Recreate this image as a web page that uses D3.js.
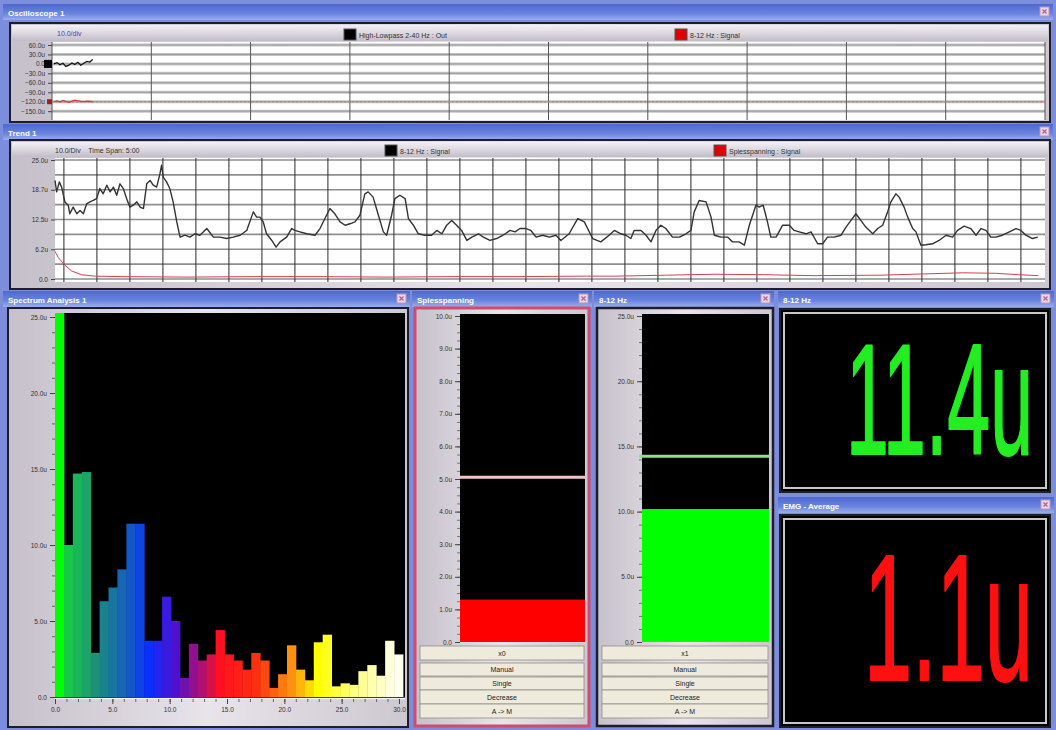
<!DOCTYPE html>
<html>
<head>
<meta charset="utf-8">
<script src="https://cdn.jsdelivr.net/npm/d3@7"></script>
<style>
  body { margin: 0; background: #7c8edb; overflow: hidden; }
  svg { display: block; font-family: "Liberation Sans", Arial, sans-serif; }
  .tick text { font-size: 6.5px; fill: #333; }
</style>
</head>
<body>
<svg id="dash" width="1056" height="730"></svg>
<script>

// ---- data ----

// oscilloscope (time in divisions, values in uV)
const oscTicks = [60, 30, 0, -30, -60, -90, -120, -150];
const oscT = [0.02, 0.05, 0.08, 0.11, 0.14, 0.17, 0.2, 0.23, 0.26, 0.29, 0.32, 0.35, 0.38, 0.41];
const oscBlack = [0, 4, -3, 2, -8, -4, 3, -2, 5, -4, 2, 8, 6, 14];
const oscRed = [-120, -117, -121, -116, -119, -122, -118, -115, -117, -119, -120, -118, -119, -120];

// trend, 8-12 Hz signal (time in s over a 5:00 span, values in uV)
const trendT = [0.0, 0.5, 1.3, 2.0, 3.0, 4.0, 4.5, 5.5, 6.6, 7.6, 8.6, 9.6, 10.6, 11.6, 12.6, 13.6, 14.6, 15.7, 16.7, 17.7,
  18.7, 19.7, 20.7, 21.7, 22.7, 23.7, 24.8, 25.8, 26.8, 27.8, 28.8, 29.8, 30.8, 31.8, 32.3, 32.8, 33.8, 34.8, 35.8, 36.9,
  37.9, 39.4, 40.9, 42.4, 43.9, 46.0, 48.0, 50.0, 52.0, 54.0, 56.1, 58.1, 60.1, 61.1, 62.1, 63.1, 64.1, 65.7, 67.0, 68.2,
  70.2, 71.7, 72.7, 74.2, 76.3, 78.8, 80.3, 81.8, 83.3, 84.8, 86.4, 87.9, 89.4, 90.9, 92.4, 93.9, 94.9, 96.4, 98.0, 99.5,
  100.5, 102.0, 103.0, 104.5, 106.1, 107.1, 108.6, 110.1, 112.1, 114.1, 115.7, 117.2, 118.7, 120.2, 121.7, 123.2, 124.8, 126.3, 128.3, 129.8,
  131.8, 133.8, 135.8, 137.9, 139.4, 140.9, 142.7, 144.2, 145.8, 147.8, 149.8, 151.8, 153.3, 155.8, 158.4, 160.4, 162.9, 165.4, 167.9, 169.5,
  171.5, 173.0, 174.5, 175.5, 177.6, 179.1, 180.6, 182.1, 183.6, 185.1, 187.1, 189.2, 191.2, 192.7, 193.7, 195.2, 197.3, 198.8, 199.8, 201.8,
  203.8, 205.3, 207.3, 208.9, 210.4, 212.4, 213.4, 214.6, 215.9, 216.9, 218.5, 220.5, 222.5, 224.0, 225.5, 227.6, 229.1, 231.1, 232.6, 234.1,
  236.1, 238.2, 239.7, 241.2, 242.7, 244.2, 245.7, 247.8, 249.3, 250.8, 252.3, 253.3, 254.8, 255.8, 257.3, 258.4, 259.9, 260.9, 262.4, 263.9,
  265.9, 267.9, 270.0, 272.0, 273.5, 275.5, 277.5, 279.1, 280.6, 282.1, 283.6, 285.1, 287.1, 289.2, 291.2, 292.7, 294.2, 296.2, 297.8];
const trendSignal = [20.7, 18.3, 20.4, 19.3, 16.2, 15.5, 13.7, 15.1, 13.7, 14.4, 13.7, 15.8, 16.2, 16.5, 16.9, 19.0, 17.9, 19.7, 18.3, 19.3,
  17.6, 20.0, 19.0, 16.9, 15.1, 15.5, 16.2, 15.1, 14.8, 20.0, 20.7, 19.7, 19.3, 22.1, 23.9, 21.4, 20.4, 19.0, 16.2, 12.0,
  8.8, 9.2, 8.8, 9.5, 9.2, 10.6, 8.8, 8.8, 8.5, 8.8, 9.2, 10.2, 14.1, 13.0, 13.0, 12.0, 9.5, 8.1, 6.7, 7.8,
  8.8, 10.6, 10.2, 9.9, 9.5, 9.2, 10.6, 12.7, 14.8, 13.7, 12.0, 11.3, 11.6, 12.0, 13.4, 17.9, 18.3, 17.2, 13.4, 9.9,
  9.2, 13.4, 16.9, 17.6, 16.9, 12.7, 11.3, 9.5, 9.2, 9.2, 10.2, 9.5, 11.3, 12.3, 11.3, 10.2, 8.1, 8.8, 9.5, 8.8,
  8.1, 8.5, 9.2, 10.2, 9.9, 10.6, 10.6, 10.2, 8.8, 9.2, 8.8, 9.2, 8.1, 9.5, 12.7, 12.0, 8.5, 7.8, 9.2, 10.2,
  9.5, 9.2, 8.5, 10.2, 10.2, 9.2, 7.8, 10.2, 11.3, 10.6, 8.8, 8.8, 9.5, 10.2, 14.1, 16.5, 16.2, 13.0, 9.2, 8.8,
  8.8, 7.8, 7.8, 7.1, 11.3, 15.5, 15.1, 15.5, 12.0, 8.8, 8.8, 11.3, 11.3, 10.2, 9.9, 9.5, 9.9, 7.4, 7.4, 8.8,
  8.8, 9.2, 10.9, 12.3, 13.7, 12.3, 10.9, 9.5, 10.6, 11.3, 14.1, 16.2, 17.9, 17.2, 15.1, 13.0, 10.6, 9.9, 7.1, 7.2,
  7.4, 8.1, 9.2, 8.8, 10.2, 11.1, 10.6, 9.2, 10.6, 10.2, 8.8, 8.8, 9.2, 9.9, 10.6, 10.2, 9.2, 8.5, 8.8];

// trend, Spiesspanning signal
const spiesT = [0, 1, 3, 5, 8, 12, 20, 40, 60, 80, 100, 120, 140, 160, 170, 185, 200, 215, 230, 250, 260, 275, 285, 292, 298];
const spiesSignal = [5.8, 4.5, 2.9, 1.7, 0.9, 0.6, 0.5, 0.4, 0.5, 0.5, 0.4, 0.5, 0.5, 0.6, 0.6, 0.8, 1.0, 0.9, 0.7, 0.8, 1.0, 1.3, 1.2, 0.9, 0.7];
const trendTicks = [0, 6.25, 12.5, 18.75, 25];
const trendTickLabels = ["0.0", "6.2u", "12.5u", "18.7u", "25.0u"];

// spectrum, 39 bins from 0 to 30 Hz (uV)
const specValues = [26, 10.0, 14.7, 14.8, 2.9, 6.3, 7.2, 8.4, 11.4, 11.4, 3.7, 3.7, 6.6, 5.0, 1.25, 3.5, 2.4, 2.8, 4.4, 2.8,
  2.4, 1.8, 2.9, 2.4, 0.6, 1.5, 3.4, 1.8, 1.1, 3.6, 4.1, 0.7, 0.9, 0.8, 1.7, 2.1, 1.4, 3.7, 2.8];
const specXTicks = [0, 5, 10, 15, 20, 25, 30];
const specYTicks = [0, 5, 10, 15, 20, 25];

// bar meters
const spiesValue = 1.3, spiesMarker = 5.05;
const alphaValue = 10.2, alphaMarker = 14.25;
const spiesTicks = [0, 1, 2, 3, 4, 5, 6, 7, 8, 9, 10];
const alphaTicks = [0, 5, 10, 15, 20, 25];
const buttonsSpies = ["x0", "Manual", "Single", "Decrease", "A -> M"];
const buttonsAlpha = ["x1", "Manual", "Single", "Decrease", "A -> M"];

// numeric displays
const alphaDisplay = "11.4u";
const emgDisplay = "1.1u";

// ---- drawing ----

const svg = d3.select("#dash");
const defs = svg.append("defs");

function grad(id, stops, vertical) {
  var g = defs.append("linearGradient").attr("id", id)
    .attr("x1", 0).attr("y1", 0).attr("x2", vertical ? 0 : 1).attr("y2", vertical ? 1 : 0);
  stops.forEach(function(s) { g.append("stop").attr("offset", s[0]).attr("stop-color", s[1]); });
}
grad("gTitle", [[0, "#4d69d0"], [0.6, "#6a84de"], [1, "#9aaeee"]], true);
grad("gHeader", [[0, "#f2f0f4"], [0.5, "#dcd8e0"], [1, "#c2bcc8"]], true);
grad("gAxis", [[0, "#c6c0ca"], [0.5, "#e8e4ea"], [1, "#cdc7d0"]], false);

svg.append("rect").attr("width", 1056).attr("height", 730).attr("fill", "#7c8edb");

function titleBar(x, y, w, label) {
  svg.append("rect").attr("x", x).attr("y", y).attr("width", w).attr("height", 16).attr("fill", "url(#gTitle)");
  svg.append("text").attr("x", x + 5).attr("y", y + 11.5).attr("fill", "#fff")
    .attr("font-size", 8).attr("font-weight", "bold").text(label);
  var cb = svg.append("g").attr("transform", "translate(" + (x + w - 13) + "," + (y + 3) + ")");
  cb.append("rect").attr("width", 9).attr("height", 9).attr("fill", "#ecd6e6").attr("stroke", "#b898b8");
  cb.append("path").attr("d", "M2.5,2.5L6.5,6.5M6.5,2.5L2.5,6.5").attr("stroke", "#b06090").attr("stroke-width", 1.2);
}

function frame(x, y, w, h, fill, stroke, sw) {
  svg.append("rect").attr("x", x).attr("y", y).attr("width", w).attr("height", h)
    .attr("fill", fill).attr("stroke", stroke).attr("stroke-width", sw);
}

function legendItem(x, y, color, label) {
  svg.append("rect").attr("x", x).attr("y", y).attr("width", 12).attr("height", 11).attr("fill", color).attr("stroke", "#555");
  svg.append("text").attr("x", x + 15).attr("y", y + 8.5).attr("font-size", 7).attr("fill", "#333").text(label);
}

function styleAxis(g, color) {
  g.select(".domain").remove();
  g.selectAll(".tick line").attr("stroke", color || "#444");
}

var fmtU = function(v) { return v === 0 ? "0.0" : d3.format(".1f")(v) + "u"; };

// ---------- Oscilloscope 1 ----------
titleBar(3, 4, 1050, "Oscilloscope 1");
frame(10, 23, 1040, 99, "url(#gAxis)", "#1d1d2c", 2);
svg.append("rect").attr("x", 12).attr("y", 25).attr("width", 1036).attr("height", 16).attr("fill", "url(#gHeader)");
svg.append("text").attr("x", 57).attr("y", 36).attr("font-size", 7).attr("fill", "#4848b8").text("10.0/div");
legendItem(344, 29, "#000", "High-Lowpass 2-40 Hz : Out");
legendItem(675, 29, "#e00000", "8-12 Hz : Signal");

var oscX = d3.scaleLinear().domain([0, 10]).range([52, 1045]);
var oscY = d3.scaleLinear().domain([-178, 69.5]).range([120, 42]);
svg.append("rect").attr("x", 52).attr("y", 42).attr("width", 993).attr("height", 78).attr("fill", "#fff");

var oscGrid = svg.append("g");
oscGrid.selectAll(".hb").data(d3.range(-150, 61, 30)).enter().append("line")
  .attr("x1", 52).attr("x2", 1045).attr("y1", oscY).attr("y2", oscY)
  .attr("stroke", "#c4c4c4").attr("stroke-width", 3);
oscGrid.selectAll(".hl").data(d3.range(-150, 61, 30)).enter().append("line")
  .attr("x1", 52).attr("x2", 1045).attr("y1", oscY).attr("y2", oscY)
  .attr("stroke", "#8a8a8a").attr("stroke-width", 0.7);
oscGrid.selectAll(".v").data(d3.range(0, 11)).enter().append("line")
  .attr("x1", oscX).attr("x2", oscX).attr("y1", 42).attr("y2", 120)
  .attr("stroke", "#555").attr("stroke-width", 1);
svg.append("line").attr("x1", 52).attr("x2", 1045).attr("y1", oscY(-120)).attr("y2", oscY(-120))
  .attr("stroke", "#e07878").attr("stroke-width", 1.5).attr("stroke-dasharray", "2,2");

var oscAxis = svg.append("g").attr("transform", "translate(52,0)")
  .call(d3.axisLeft(oscY).tickValues(oscTicks).tickSize(4).tickFormat(fmtU));
styleAxis(oscAxis);

var oscLine = d3.line().x(function(d) { return oscX(d[0]); }).y(function(d) { return oscY(d[1]); });
svg.append("path").attr("d", oscLine(d3.zip(oscT, oscRed))).attr("fill", "none").attr("stroke", "#d04040").attr("stroke-width", 1.2);
svg.append("path").attr("d", oscLine(d3.zip(oscT, oscBlack))).attr("fill", "none").attr("stroke", "#111").attr("stroke-width", 1.2);
svg.append("rect").attr("x", 44).attr("y", oscY(0) - 4).attr("width", 8).attr("height", 8).attr("fill", "#000");
svg.append("rect").attr("x", 47).attr("y", oscY(-120) - 2.5).attr("width", 5).attr("height", 5).attr("fill", "#a02020");

// ---------- Trend 1 ----------
titleBar(3, 124, 1050, "Trend 1");
frame(10, 140, 1040, 149, "url(#gAxis)", "#1d1d2c", 2);
svg.append("rect").attr("x", 12).attr("y", 142).attr("width", 1036).attr("height", 15).attr("fill", "url(#gHeader)");
svg.append("text").attr("x", 55).attr("y", 152.5).attr("font-size", 7).attr("fill", "#333")
  .attr("xml:space", "preserve").text("10.0/Div    Time Span: 5:00");
legendItem(385, 145, "#000", "8-12 Hz : Signal");
legendItem(714, 145, "#e00000", "Spiesspanning : Signal");

var trX = d3.scaleLinear().domain([0, 300]).range([55, 1045]);
var trY = d3.scaleLinear().domain([0, 25]).range([279, 160]);
svg.append("rect").attr("x", 55).attr("y", 158).attr("width", 990).attr("height", 124).attr("fill", "#fff");
svg.append("g").selectAll("line").data(d3.range(0, 25.01, 3.125)).enter().append("line")
  .attr("x1", 55).attr("x2", 1045).attr("y1", trY).attr("y2", trY)
  .attr("stroke", "#8e8e8e").attr("stroke-width", 1.6);
svg.append("g").selectAll("line").data(d3.range(2.7, 300, 10)).enter().append("line")
  .attr("x1", trX).attr("x2", trX).attr("y1", 158).attr("y2", 282)
  .attr("stroke", "#2a2a2a").attr("stroke-width", 1);

var trAxis = svg.append("g").attr("transform", "translate(55,0)")
  .call(d3.axisLeft(trY).tickValues(trendTicks).tickSize(4)
    .tickFormat(function(d, i) { return trendTickLabels[i]; }));
styleAxis(trAxis);

var trLine = d3.line().x(function(d) { return trX(d[0]); }).y(function(d) { return trY(d[1]); });
svg.append("path").attr("d", trLine(d3.zip(spiesT, spiesSignal)))
  .attr("fill", "none").attr("stroke", "#d04050").attr("stroke-width", 1);
svg.append("path").attr("d", trLine(d3.zip(trendT, trendSignal)))
  .attr("fill", "none").attr("stroke", "#333").attr("stroke-width", 1.4).attr("stroke-linejoin", "round");

// ---------- Spectrum Analysis 1 ----------
titleBar(3, 291, 407, "Spectrum Analysis 1");
frame(8, 308, 400, 419, "url(#gAxis)", "#1d1d2c", 2);
svg.append("rect").attr("x", 55).attr("y", 313).attr("width", 350).attr("height", 385).attr("fill", "#000");

var spX = d3.scaleLinear().domain([0, 30]).range([55, 399]);
var spY = d3.scaleLinear().domain([0, 25]).range([697, 317]);
var spBand = d3.scaleBand().domain(d3.range(specValues.length)).range([spX(0), 403]).paddingInner(0);
var spColor = d3.scaleLinear()
  .domain([0, 1, 4, 8, 10, 13, 16, 18, 22, 26, 29, 33, 38])
  .range(["#00ff00", "#18c848", "#1c9078", "#1458c8", "#0a30ff", "#5010d0", "#b01070", "#ff1020",
          "#ff3010", "#ff9010", "#ffff00", "#ffff80", "#fffff0"]);

defs.append("clipPath").attr("id", "spClip").append("rect")
  .attr("x", 55).attr("y", 313).attr("width", 350).attr("height", 385);
svg.append("g").attr("clip-path", "url(#spClip)").selectAll("rect").data(specValues).enter().append("rect")
  .attr("x", function(d, i) { return spBand(i); })
  .attr("width", spBand.bandwidth() + 0.4)
  .attr("y", function(d) { return spY(d); })
  .attr("height", function(d) { return spY(0) - spY(d); })
  .attr("fill", function(d, i) { return spColor(i); });

var spYMinor = svg.append("g").attr("transform", "translate(55,0)")
  .call(d3.axisLeft(spY).tickValues(d3.range(0, 25.01, 1)).tickSize(3).tickFormat(""));
styleAxis(spYMinor, "#666");
var spYAxis = svg.append("g").attr("transform", "translate(55,0)")
  .call(d3.axisLeft(spY).tickValues(specYTicks).tickSize(5).tickFormat(fmtU));
styleAxis(spYAxis);
svg.append("line").attr("x1", 55).attr("x2", 405).attr("y1", 698.5).attr("y2", 698.5).attr("stroke", "#f4f4f4").attr("stroke-width", 1.5);
var spXMinor = svg.append("g").attr("transform", "translate(0,699)")
  .call(d3.axisBottom(spX).tickValues(d3.range(0, 30.01, 1)).tickSize(3).tickFormat(""));
styleAxis(spXMinor, "#666");
var spXAxis = svg.append("g").attr("transform", "translate(0,699)")
  .call(d3.axisBottom(spX).tickValues(specXTicks).tickSize(5).tickFormat(d3.format(".1f")));
styleAxis(spXAxis);

// ---------- bar meters ----------
function buttons(x, w, labels) {
  var rows = [[646, 14], [663, 13], [677, 13], [690, 14], [704, 14]];
  labels.forEach(function(lab, i) {
    svg.append("rect").attr("x", x).attr("y", rows[i][0]).attr("width", w).attr("height", rows[i][1])
      .attr("fill", "#eeebdc").attr("stroke", "#8f8d86").attr("stroke-width", 0.8);
    svg.append("text").attr("x", x + w / 2).attr("y", rows[i][0] + rows[i][1] / 2 + 2.5)
      .attr("text-anchor", "middle").attr("font-size", 7).attr("fill", "#222").text(lab);
  });
}

function meter(cfg) {
  titleBar(cfg.x - 3, 291, 180, cfg.title);
  frame(cfg.x, 308, cfg.w, 418, "url(#gAxis)", cfg.border, cfg.bw);
  var px = cfg.x + 45, pw = cfg.w - 49;
  svg.append("rect").attr("x", px).attr("y", 314).attr("width", pw).attr("height", 328).attr("fill", "#000");
  var y = d3.scaleLinear().domain([0, cfg.max]).range([642, 316]);
  svg.append("rect").attr("x", px).attr("width", pw).attr("y", y(cfg.value)).attr("height", 642 - y(cfg.value))
    .attr("fill", cfg.color);
  svg.append("line").attr("x1", px - 3).attr("x2", px + pw).attr("y1", y(cfg.marker)).attr("y2", y(cfg.marker))
    .attr("stroke", cfg.markerColor).attr("stroke-width", 3);
  var minor = svg.append("g").attr("transform", "translate(" + px + ",0)")
    .call(d3.axisLeft(y).tickValues(d3.range(0, cfg.max + 0.001, cfg.minor)).tickSize(3).tickFormat(""));
  styleAxis(minor, "#777");
  var major = svg.append("g").attr("transform", "translate(" + px + ",0)")
    .call(d3.axisLeft(y).tickValues(cfg.ticks).tickSize(5).tickFormat(fmtU));
  styleAxis(major);
  buttons(cfg.x + 5, cfg.w - 10, cfg.buttons);
}

meter({ x: 415, w: 174, title: "Spiesspanning", border: "#d24a6c", bw: 3, max: 10, minor: 0.25,
  ticks: spiesTicks, value: spiesValue, marker: spiesMarker, color: "#ff0000", markerColor: "#f2c4c8",
  buttons: buttonsSpies });
meter({ x: 597, w: 176, title: "8-12 Hz", border: "#1d1d2c", bw: 2.5, max: 25, minor: 1,
  ticks: alphaTicks, value: alphaValue, marker: alphaMarker, color: "#00ff00", markerColor: "#8ee08e",
  buttons: buttonsAlpha });

// ---------- numeric displays ----------
// big condensed read-outs: plain sans squeezed horizontally to the box width
function display(y, h, title, value, color, baseline, size, len) {
  titleBar(778, y - 18, 276, title);
  frame(780, y, 270, h, "#000", "#1d1d2c", 2);
  svg.append("rect").attr("x", 784).attr("y", y + 4).attr("width", 262).attr("height", h - 8)
    .attr("fill", "none").attr("stroke", "#c8c8c8").attr("stroke-width", 2);
  var g = svg.append("g");
  var t = g.append("text").attr("x", 0).attr("y", 0)
    .attr("font-family", "'Liberation Sans', Arial, sans-serif")
    .attr("font-size", size).attr("fill", color)
    .attr("stroke", color).attr("stroke-width", 2).attr("stroke-linejoin", "round")
    .attr("text-anchor", "end").text(value);
  var natural = t.node().getComputedTextLength() + 2;
  g.attr("transform", "translate(1033," + baseline + ") scale(" + (len / natural) + ",1)");
}
display(309, 183, "8-12 Hz", alphaDisplay, "#22ee22", 454, 158, 188);
display(515, 212, "EMG - Average", emgDisplay, "#ff1010", 680, 180, 170);

</script>
</body>
</html>
